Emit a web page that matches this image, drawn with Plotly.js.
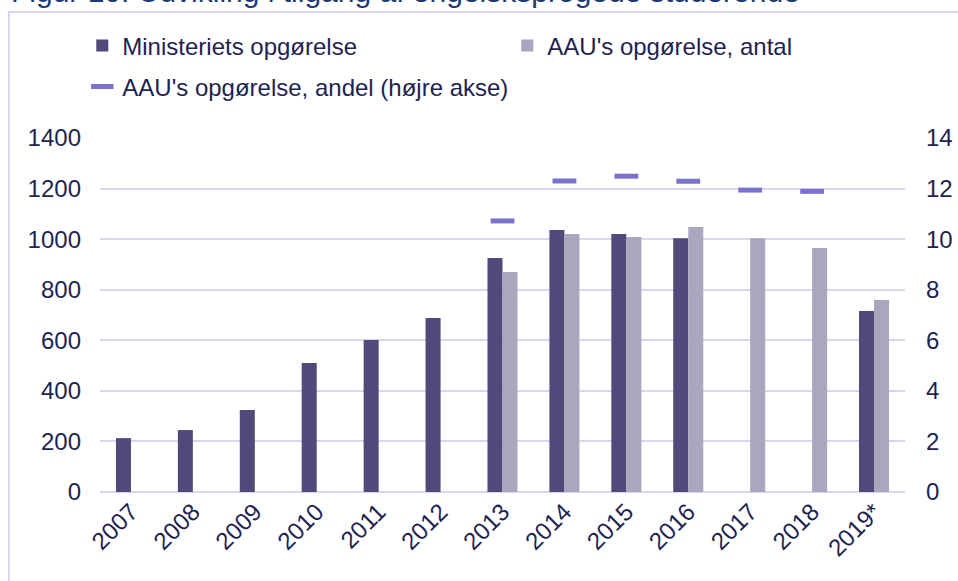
<!DOCTYPE html>
<html>
<head>
<meta charset="utf-8">
<script src="https://cdn.plot.ly/plotly-3.0.1.min.js"></script>
<style>
html,body{margin:0;padding:0;background:#fff;}
#chart{width:958px;height:581px;}
</style>
</head>
<body>
<div id="chart"></div>
<script>
const years = ["2007","2008","2009","2010","2011","2012","2013","2014","2015","2016","2017","2018","2019*"];
const ministeriet = [213, 245, 324, 510, 601, 688, 925, 1036, 1020, 1004, null, null, 716];
const aauAntal = [null, null, null, null, null, null, 870, 1020, 1008, 1048, 1004, 965, 759];
const andelYears = ["2013","2014","2015","2016","2017","2018"];
const aauAndel = [10.72, 12.30, 12.49, 12.29, 11.94, 11.89];

const textColor = "#231f4f";
const fontFam = "Liberation Sans, Arial, sans-serif";
const fs = 24;

const traces = [
  {type:"bar", name:"Ministeriets opgørelse", x:years, y:ministeriet,
   marker:{color:"#4f4a7a"}, legend:"legend"},
  {type:"bar", name:"AAU's opgørelse, antal", x:years, y:aauAntal,
   marker:{color:"#a9a6bd"}, legend:"legend"},
  {type:"scatter", mode:"markers", name:"AAU's opgørelse, andel (højre akse)",
   x:andelYears, y:aauAndel, yaxis:"y2", legend:"legend2",
   marker:{symbol:"line-ew", size:17, color:"#7b73cb", line:{width:5, color:"#7b73cb"}}}
];

const layout = {
  width:958, height:581,
  margin:{l:100, r:53, t:138, b:89},
  paper_bgcolor:"#fff", plot_bgcolor:"#fff",
  font:{family:fontFam, size:fs, color:textColor},
  barmode:"group", bargap:0.515, bargroupgap:0,
  showlegend:true,
  legend:{orientation:"h", x:-0.022, xanchor:"left", y:1.26, yanchor:"middle",
          font:{size:fs, color:textColor}, entrywidth:380, itemwidth:30,
          bgcolor:"rgba(0,0,0,0)"},
  legend2:{orientation:"h", x:-0.022, xanchor:"left", y:1.144, yanchor:"middle",
          font:{size:fs, color:textColor}, itemwidth:30, bgcolor:"rgba(0,0,0,0)"},
  xaxis:{type:"category", tickangle:-45, showgrid:false, showline:false, ticks:"",
         tickfont:{size:fs, color:textColor}, fixedrange:true},
  yaxis:{range:[0,1400], dtick:200, showgrid:true, gridcolor:"#d9d6f0", gridwidth:2,
         zeroline:true, zerolinecolor:"#d9d6f0", zerolinewidth:2, ticks:"",
         ticklabelstandoff:18, tickfont:{size:fs, color:textColor}},
  yaxis2:{range:[0,14], dtick:2, overlaying:"y", side:"right", showgrid:false,
          zeroline:false, ticks:"", ticklabelstandoff:20, tickfont:{size:fs, color:textColor}},
  shapes:[
    {type:"rect", xref:"paper", yref:"paper", x0:-0.113, x1:1.08, y0:-0.28, y1:1.356,
     line:{color:"#d8d5f0", width:2}, fillcolor:"rgba(0,0,0,0)", layer:"below"}
  ],
  annotations:[
    {xref:"paper", yref:"paper", x:-0.113, xanchor:"left", y:1.362, yanchor:"bottom",
     text:"Figur 10: Udvikling i tilgang af engelsksprogede studerende", showarrow:false,
     font:{size:30, color:"#1d3a73", family:fontFam}}
  ]
};

Plotly.newPlot("chart", traces, layout, {displayModeBar:false, staticPlot:true});
</script>
</body>
</html>
